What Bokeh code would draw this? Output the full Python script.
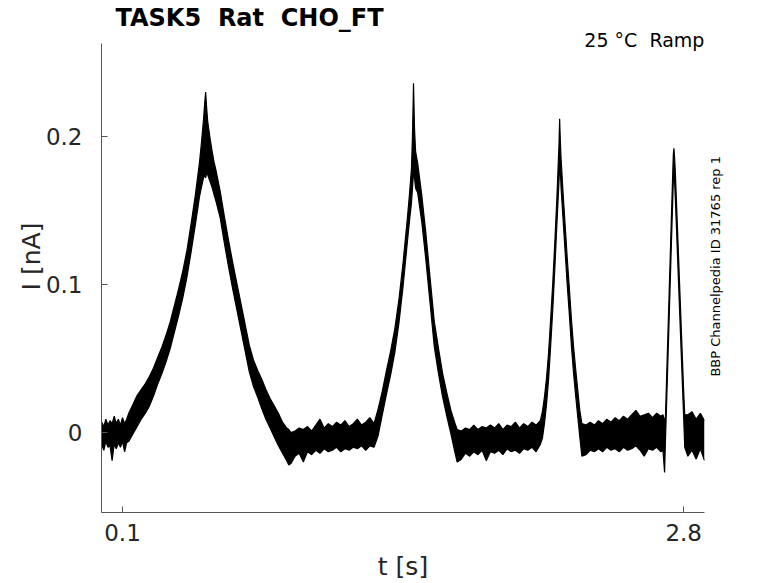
import math
from bokeh.plotting import figure
from bokeh.models import Range1d, FixedTicker, Label, ColumnDataSource, LinearAxis
from bokeh.embed import file_html
from bokeh.resources import INLINE

# ---------------- data ----------------
NB = "\u00a0"  # keeps the double spaces of the original visible in SVG
chart_title = "TASK5 " + NB + "Rat " + NB + "CHO_FT"
protocol_text = "25 °C " + NB + "Ramp"
side_text = "BBP Channelpedia ID 31765 rep 1"
x_label = "t [s]"
y_label = "I [nA]"
x_ticks = [0.1, 2.8]
x_tick_labels = ["0.1", "2.8"]
y_ticks = [0, 0.1, 0.2]
y_tick_labels = ["0", "0.1", "0.2"]
x_limits = (-0.00107, 2.9)
y_limits = (-0.05405, 0.26284)

# time [s] of the overlaid sweeps, with the lower / upper edge of the noisy band [nA]
trace_t = [
    0.00, 0.01, 0.02, 0.03, 0.04, 0.05, 0.06, 0.07, 0.08, 0.09, 0.10, 0.11, 0.12,
    0.13, 0.15, 0.17, 0.19, 0.21, 0.23, 0.25, 0.27, 0.29, 0.31, 0.33, 0.35, 0.37,
    0.39, 0.41, 0.43, 0.45, 0.47, 0.48, 0.49, 0.495, 0.50, 0.505, 0.51, 0.52, 0.53,
    0.54, 0.55, 0.57, 0.59, 0.61, 0.63, 0.65, 0.67, 0.69, 0.71, 0.73, 0.75, 0.77,
    0.79, 0.81, 0.83, 0.85, 0.87, 0.89, 0.90,
    0.91, 0.93, 0.95, 0.97, 0.99, 1.01, 1.03, 1.05, 1.07, 1.09, 1.11, 1.13, 1.15,
    1.17, 1.19, 1.21, 1.23, 1.25, 1.27, 1.29, 1.31,
    1.33, 1.35, 1.37, 1.39, 1.41, 1.43, 1.45, 1.47, 1.48, 1.49, 1.495, 1.50, 1.505,
    1.51, 1.52, 1.54, 1.56, 1.58, 1.60, 1.62, 1.64, 1.66, 1.68, 1.70, 1.71,
    1.73, 1.75, 1.77, 1.79, 1.81, 1.83, 1.85, 1.87, 1.89, 1.91, 1.93, 1.95, 1.97,
    1.99, 2.01, 2.03, 2.05, 2.07, 2.09, 2.11,
    2.12, 2.13, 2.14, 2.15, 2.16, 2.17, 2.18, 2.19, 2.20, 2.203, 2.207, 2.21, 2.22,
    2.23, 2.24, 2.25, 2.26, 2.27, 2.28, 2.29, 2.30, 2.31,
    2.33, 2.35, 2.37, 2.39, 2.41, 2.43, 2.45, 2.47, 2.49, 2.51, 2.53, 2.55, 2.57,
    2.59, 2.61, 2.63, 2.65, 2.67, 2.69, 2.70,
    2.708, 2.712, 2.72, 2.73, 2.74, 2.75, 2.753, 2.756, 2.76, 2.77, 2.78, 2.79,
    2.80, 2.805,
    2.82, 2.84, 2.86, 2.88, 2.90,
]
trace_lo = [
    -0.008, -0.012, -0.006, -0.010, -0.009, -0.019, -0.008, -0.011, -0.007, -0.010, -0.006, -0.013, -0.007,
    -0.006, -0.001, 0.004, 0.009, 0.013, 0.018, 0.025, 0.033, 0.040, 0.048, 0.057, 0.068, 0.079,
    0.091, 0.105, 0.122, 0.140, 0.159, 0.166, 0.172, 0.175, 0.172, 0.176, 0.174, 0.170, 0.166,
    0.161, 0.156, 0.145, 0.128, 0.112, 0.097, 0.083, 0.069, 0.055, 0.041, 0.031, 0.024, 0.016,
    0.009, 0.003, -0.003, -0.009, -0.014, -0.019, -0.022,
    -0.021, -0.016, -0.014, -0.020, -0.013, -0.015, -0.012, -0.014, -0.011, -0.013, -0.012, -0.010, -0.013,
    -0.011, -0.012, -0.010, -0.011, -0.009, -0.012, -0.009, -0.010,
    -0.002, 0.012, 0.026, 0.039, 0.054, 0.074, 0.099, 0.128, 0.142, 0.155, 0.165, 0.175, 0.172,
    0.165, 0.162, 0.142, 0.116, 0.087, 0.058, 0.040, 0.024, 0.011, -0.001, -0.014, -0.020,
    -0.018, -0.014, -0.016, -0.013, -0.015, -0.012, -0.019, -0.013, -0.014, -0.012, -0.015, -0.011, -0.013,
    -0.012, -0.014, -0.011, -0.012, -0.010, -0.013, -0.008,
    -0.004, 0.006, 0.019, 0.036, 0.059, 0.083, 0.111, 0.141, 0.170, 0.180, 0.175, 0.165, 0.143,
    0.121, 0.099, 0.079, 0.058, 0.040, 0.025, 0.011, -0.003, -0.016,
    -0.015, -0.012, -0.013, -0.011, -0.013, -0.010, -0.012, -0.011, -0.013, -0.010, -0.012, -0.011, -0.009,
    -0.012, -0.016, -0.011, -0.012, -0.010, -0.013, -0.012,
    -0.027, -0.006, 0.030, 0.077, 0.124, 0.170, 0.178, 0.170, 0.157, 0.120, 0.083, 0.046,
    0.009, -0.010,
    -0.016, -0.012, -0.018, -0.011, -0.019,
]
trace_hi = [
    0.007, 0.004, 0.009, 0.005, 0.008, 0.006, 0.011, 0.006, 0.009, 0.005, 0.010, 0.006, 0.009,
    0.013, 0.019, 0.025, 0.029, 0.033, 0.038, 0.044, 0.051, 0.058, 0.066, 0.075, 0.086, 0.097,
    0.109, 0.123, 0.141, 0.160, 0.182, 0.196, 0.212, 0.222, 0.230, 0.219, 0.210, 0.200, 0.191,
    0.183, 0.177, 0.163, 0.146, 0.130, 0.115, 0.101, 0.087, 0.073, 0.059, 0.049, 0.042, 0.036,
    0.029, 0.023, 0.018, 0.013, 0.007, 0.003, 0.002,
    0.000, 0.001, 0.003, 0.002, 0.004, 0.001, 0.005, 0.009, 0.003, 0.006, 0.004, 0.007, 0.005,
    0.008, 0.004, 0.006, 0.009, 0.005, 0.007, 0.010, 0.006,
    0.016, 0.028, 0.042, 0.055, 0.070, 0.090, 0.115, 0.144, 0.160, 0.178, 0.200, 0.236, 0.205,
    0.190, 0.182, 0.160, 0.134, 0.104, 0.075, 0.057, 0.040, 0.027, 0.015, 0.006, 0.002,
    0.001, 0.003, 0.002, 0.005, 0.002, 0.004, 0.003, 0.005, 0.003, 0.006, 0.002, 0.005, 0.004,
    0.007, 0.003, 0.006, 0.004, 0.007, 0.005, 0.008,
    0.014, 0.024, 0.037, 0.054, 0.077, 0.101, 0.129, 0.159, 0.195, 0.212, 0.195, 0.185, 0.161,
    0.139, 0.117, 0.097, 0.076, 0.058, 0.043, 0.029, 0.015, 0.006,
    0.005, 0.007, 0.005, 0.008, 0.006, 0.009, 0.007, 0.010, 0.008, 0.011, 0.009, 0.012, 0.015,
    0.011, 0.012, 0.013, 0.010, 0.013, 0.011, 0.012,
    0.008, 0.010, 0.048, 0.095, 0.142, 0.188, 0.192, 0.186, 0.175, 0.138, 0.101, 0.064,
    0.027, 0.012,
    0.012, 0.014, 0.009, 0.013, 0.008,
]
side_text_from = 0.0378  # I value at which the side note starts (it reads upwards)

# ---------------- figure ----------------
# The frame is extended upwards (so the title texts are not clipped);
# the y axis line is limited to the data limits with "bounds".
p = figure(
    width=778, height=583,
    output_backend="svg", toolbar_location=None, title=None,
    x_range=Range1d(*x_limits), y_range=Range1d(y_limits[0], 0.29189),
    min_border_left=101, min_border_right=74, min_border_top=0, min_border_bottom=71,
)
p.background_fill_color = "white"
p.border_fill_color = "white"
p.outline_line_color = None
p.xgrid.visible = False
p.ygrid.visible = False

src = ColumnDataSource(dict(t=trace_t, lo=trace_lo, hi=trace_hi))
p.varea(x="t", y1="lo", y2="hi", source=src, fill_color="black")
p.line(x="t", y="lo", source=src, line_color="black", line_width=1.2)
p.line(x="t", y="hi", source=src, line_color="black", line_width=1.2)

# axes
p.yaxis.bounds = y_limits
p.xaxis.ticker = FixedTicker(ticks=x_ticks)
p.yaxis.ticker = FixedTicker(ticks=y_ticks)
p.xaxis.major_label_overrides = {k: v for k, v in zip(x_ticks, x_tick_labels)}
p.yaxis.major_label_overrides = {k: v for k, v in zip(y_ticks, y_tick_labels)}
p.axis.minor_tick_line_color = None
p.axis.major_tick_in = 6
p.axis.major_tick_out = 0
p.axis.axis_line_color = "#555555"
p.axis.major_tick_line_color = "#555555"
p.axis.major_label_text_font = "DejaVu Sans"
p.axis.major_label_text_font_size = "23px"
p.axis.major_label_text_color = "#262626"
p.yaxis.major_label_standoff = 19
p.xaxis.major_label_standoff = 11
p.xaxis.axis_label = x_label
p.yaxis.axis_label = y_label
p.axis.axis_label_text_font = "DejaVu Sans"
p.axis.axis_label_text_font_style = "normal"
p.axis.axis_label_text_font_size = "25px"
p.axis.axis_label_text_color = "#262626"
p.yaxis.axis_label_standoff = -3
p.xaxis.axis_label_standoff = 8

# side note: a bare right axis whose single tick label is the note, read bottom-to-top
side_axis = LinearAxis(
    ticker=FixedTicker(ticks=[side_text_from]),
    major_label_overrides={side_text_from: side_text},
    major_label_orientation=math.pi / 2,
    major_label_standoff=11,
    major_label_text_font="DejaVu Sans",
    major_label_text_font_size="13px",
    major_label_text_color="black",
    axis_line_color=None,
    major_tick_line_color=None,
    minor_tick_line_color=None,
    major_tick_in=0, major_tick_out=0,
)
p.add_layout(side_axis, "right")

# texts above the data area (inside the extended frame)
p.add_layout(Label(x=0.06631, y=0.2804, text=chart_title, text_font="DejaVu Sans",
                   text_font_style="bold", text_font_size="24px", text_color="black",
                   text_align="left", text_baseline="alphabetic"))
p.add_layout(Label(x=2.8995, y=0.2650, text=protocol_text, text_font="DejaVu Sans",
                   text_font_size="19px", text_color="black",
                   text_align="right", text_baseline="alphabetic"))

open("out.html", "w").write(file_html(p, INLINE))
